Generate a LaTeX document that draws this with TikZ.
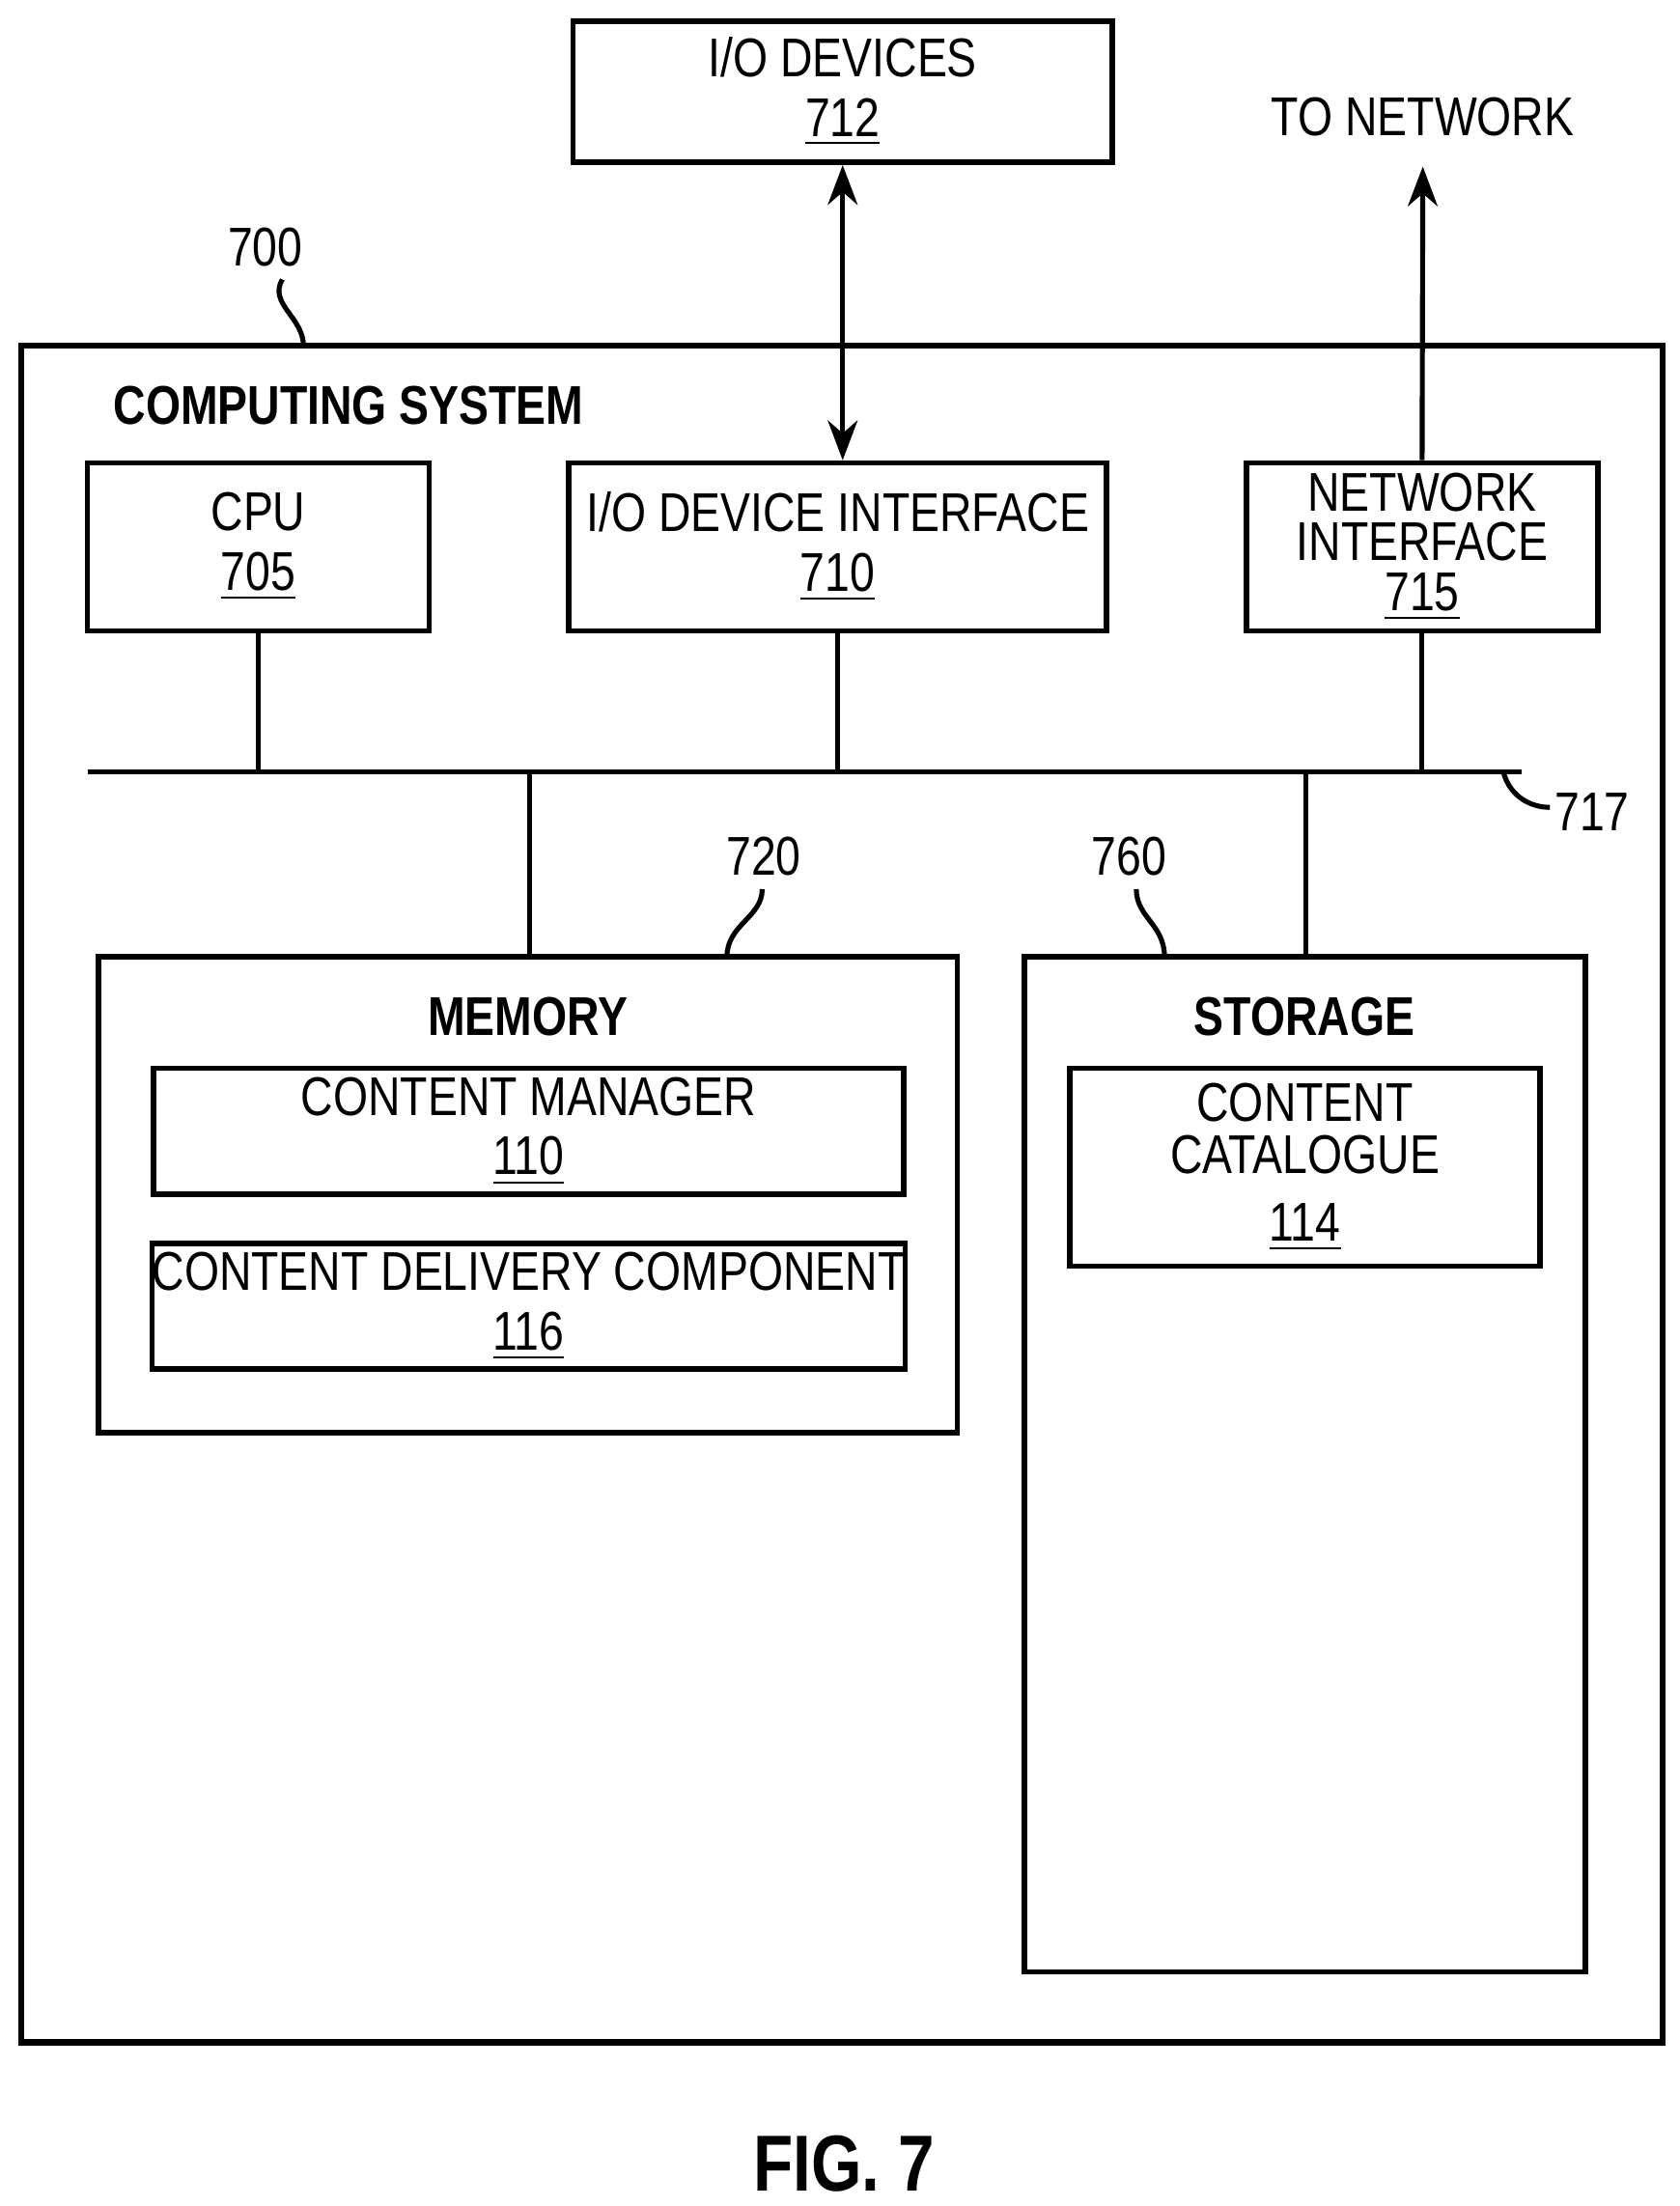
\documentclass[tikz,border=0pt]{standalone}
\usepackage{fontspec}
\setmainfont[FakeStretch=0.82]{Liberation Sans}
\usetikzlibrary{positioning,arrows.meta}

\begin{document}
\begin{tikzpicture}[
    x=0.01cm, y=-0.01cm,
    box/.style={draw, line width=1.1pt, inner sep=0pt, align=center, font=\fontsize{11}{12}\selectfont},
    lbl/.style={font=\fontsize{11}{12}\selectfont},
    head/.style={font=\fontsize{11}{12}\selectfont\bfseries},
    link/.style={line width=1pt},
    tip/.style={-{Stealth[length=8pt,width=6pt]}, line width=1pt}
]
\useasboundingbox (0,0) rectangle (1190,1563);

% Outer frame
\draw[line width=1.2pt] (15,245) rectangle (1178,1447);
\node[head, anchor=west] (title) at (68,287) {COMPUTING SYSTEM};

% Top row boxes
\node[box, minimum width=3.82cm, minimum height=1.0cm] (iodev) at (597,65) {I/O DEVICES\\\underline{712}};
\node[box, minimum width=2.42cm, minimum height=1.19cm] (cpu) at (183,387.5) {CPU\\\underline{705}};
\node[box, minimum width=3.81cm, minimum height=1.19cm] (ioif) at (593.5,387.5) {I/O DEVICE INTERFACE\\\underline{710}};
\node[box, minimum width=2.49cm, minimum height=1.19cm, font=\fontsize{11}{10}\selectfont] (netif) at (1007.5,387.5) {NETWORK\\INTERFACE\\\underline{715}};

% Network label
\node[lbl] (tonet) at (1008,83) {TO NETWORK};
\coordinate (netend) at (1008,118);

% Bus
\coordinate (busw) at (62,547);
\coordinate (buse) at (1078,547);
\draw[link] (busw) -- (buse);
\draw[link] (cpu.south) -- (cpu.south |- busw);
\draw[link] (ioif.south) -- (ioif.south |- busw);
\draw[link] (netif.south) -- (netif.south |- busw);
\draw[tip] (netif.north) -- (netend);
\draw[{Stealth[length=8pt,width=6pt]}-{Stealth[length=8pt,width=6pt]}, line width=1pt] (iodev.south) -- (iodev.south |- ioif.north);

% Memory and storage
\node[box, minimum width=6.08cm, minimum height=3.37cm] (mem) at (374,846.5) {};
\node[box, minimum width=3.97cm, minimum height=7.19cm] (stor) at (924.5,1037.5) {};
\node[head] at (374,720) {MEMORY};
\node[head] at (924,720) {STORAGE};
\node[box, minimum width=5.31cm, minimum height=0.89cm] (cman) at (374.5,801.5) {CONTENT MANAGER\\\underline{110}};
\node[box, minimum width=5.31cm, minimum height=0.89cm] (cdel) at (374.5,925.5) {CONTENT DELIVERY COMPONENT\\\underline{116}};
\node[box, minimum width=3.33cm, minimum height=1.40cm, font=\fontsize{11}{10.5}\selectfont] (ccat) at (924.5,827) {CONTENT\\CATALOGUE\\[3pt]\underline{114}};
\draw[link] (375,547) -- (375,0 |- mem.north);
\draw[link] (925,547) -- (925,0 |- stor.north);

% Reference numerals
\node[lbl] (n700) at (188,175) {700};
\draw[link] (200,198) .. controls (190,215) and (215,225) .. (215,245);
\node[lbl] (n717) at (1128,575) {717};
\draw[link] (1065,547) .. controls (1070,565) and (1085,572) .. (1098,572);
\node[lbl] (n720) at (541,607) {720};
\draw[link] (540,630) .. controls (540,650) and (515,655) .. (515,678);
\node[lbl] (n760) at (800,607) {760};
\draw[link] (805,630) .. controls (805,650) and (825,655) .. (825,678);

% Caption
\node[font=\fontsize{16}{18}\selectfont\bfseries] (fig) at (598,1533) {FIG. 7};
\end{tikzpicture}
\end{document}
